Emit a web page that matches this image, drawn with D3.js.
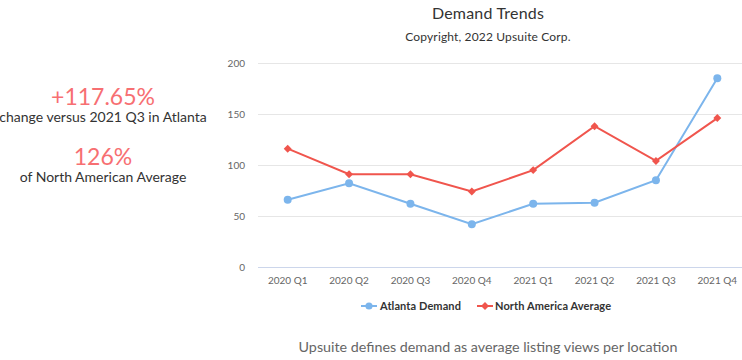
<!DOCTYPE html>
<html>
<head>
<meta charset="utf-8">
<script src="https://cdn.jsdelivr.net/npm/d3@7"></script>
<style>
  body { margin: 0; background: #fff; }
  svg { display: block; font-family: Lato, "Open Sans", sans-serif; }
</style>
</head>
<body>
<svg id="chart" width="742" height="360"></svg>
<script>
const quarters = ["2020 Q1", "2020 Q2", "2020 Q3", "2020 Q4", "2021 Q1", "2021 Q2", "2021 Q3", "2021 Q4"];
const atlantaDemand = [66, 82, 62, 42, 62, 63, 85, 185];
const northAmericaAvg = [116, 91, 91, 74, 95, 138, 104, 146];
const yTicks = [0, 50, 100, 150, 200];

const svg = d3.select("#chart");
const blue = "#7cb5ec";
const red = "#f0554d";
const pink = "#f76f72";

const x = d3.scalePoint().domain(quarters).range([257, 748]).padding(0.5);
const y = d3.scaleLinear().domain([0, 200]).range([267, 63]);

// gridlines
svg.append("g")
  .selectAll("line")
  .data(yTicks)
  .join("line")
  .attr("x1", 258)
  .attr("x2", 742)
  .attr("y1", d => y(d) + 0.5)
  .attr("y2", d => y(d) + 0.5)
  .attr("stroke", d => d === 0 ? "#ccd6eb" : "#e6e6e6")
  .attr("stroke-width", 1);

// y axis labels
svg.append("g")
  .selectAll("text")
  .data(yTicks)
  .join("text")
  .attr("x", 245)
  .attr("y", d => y(d) + 4)
  .attr("text-anchor", "end")
  .attr("font-size", 10)
  .attr("fill", "#666")
  .text(d => d);

// x axis labels
svg.append("g")
  .selectAll("text")
  .data(quarters)
  .join("text")
  .attr("x", d => x(d))
  .attr("y", 284)
  .attr("text-anchor", "middle")
  .attr("font-size", 10)
  .attr("fill", "#666")
  .text(d => d);

const line = d3.line()
  .x((d, i) => x(quarters[i]))
  .y(d => y(d));

// Atlanta series
svg.append("path")
  .datum(atlantaDemand)
  .attr("d", line)
  .attr("fill", "none")
  .attr("stroke", blue)
  .attr("stroke-width", 2);

svg.append("g")
  .selectAll("circle")
  .data(atlantaDemand)
  .join("circle")
  .attr("cx", (d, i) => x(quarters[i]))
  .attr("cy", d => y(d))
  .attr("r", 4)
  .attr("fill", blue);

// North America series
svg.append("path")
  .datum(northAmericaAvg)
  .attr("d", line)
  .attr("fill", "none")
  .attr("stroke", red)
  .attr("stroke-width", 2);

const diamond = d3.symbol().type(d3.symbolDiamond2).size(40);
svg.append("g")
  .selectAll("path")
  .data(northAmericaAvg)
  .join("path")
  .attr("d", diamond)
  .attr("transform", (d, i) => `translate(${x(quarters[i])},${y(d)})`)
  .attr("fill", red);

// legend
const legend = [
  { name: "Atlanta Demand", color: blue, sx: 369, tx: 380, shape: "circle" },
  { name: "North America Average", color: red, sx: 485, tx: 495, shape: "diamond" }
];
const lg = svg.append("g").selectAll("g").data(legend).join("g");
lg.append("line")
  .attr("x1", d => d.sx - 8).attr("x2", d => d.sx + 8)
  .attr("y1", 306).attr("y2", 306)
  .attr("stroke", d => d.color).attr("stroke-width", 2);
lg.append("path")
  .attr("d", d => d.shape === "circle"
    ? d3.symbol().type(d3.symbolCircle).size(40)()
    : diamond())
  .attr("transform", d => `translate(${d.sx},306)`)
  .attr("fill", d => d.color);
lg.append("text")
  .attr("x", d => d.tx)
  .attr("y", 310)
  .attr("font-size", 11)
  .attr("font-weight", 700)
  .attr("letter-spacing", 0.1)
  .attr("fill", "#333")
  .text(d => d.name);

// title + subtitle
svg.append("text")
  .attr("x", 488).attr("y", 19)
  .attr("text-anchor", "middle")
  .attr("font-size", 16)
  .attr("letter-spacing", 0.2)
  .attr("fill", "#333")
  .text("Demand Trends");
svg.append("text")
  .attr("x", 488).attr("y", 41)
  .attr("text-anchor", "middle")
  .attr("font-size", 12)
  .attr("letter-spacing", 0.15)
  .attr("fill", "#333")
  .text("Copyright, 2022 Upsuite Corp.");

// footer note
svg.append("text")
  .attr("x", 488).attr("y", 352)
  .attr("text-anchor", "middle")
  .attr("font-size", 14.3)
  .attr("fill", "#666")
  .text("Upsuite defines demand as average listing views per location");

// left side KPIs
const kpis = [
  { big: "+117.65%", small: "change versus 2021 Q3 in Atlanta", y: 105 },
  { big: "126%", small: "of North American Average", y: 165 }
];
const kg = svg.append("g").selectAll("g").data(kpis).join("g");
kg.append("text")
  .attr("x", 103).attr("y", d => d.y)
  .attr("text-anchor", "middle")
  .attr("font-size", 23)
  .attr("fill", pink)
  .text(d => d.big);
kg.append("text")
  .attr("x", 103).attr("y", d => d.y + 17)
  .attr("text-anchor", "middle")
  .attr("font-size", 14)
  .attr("fill", "#333")
  .text(d => d.small);
</script>
</body>
</html>
